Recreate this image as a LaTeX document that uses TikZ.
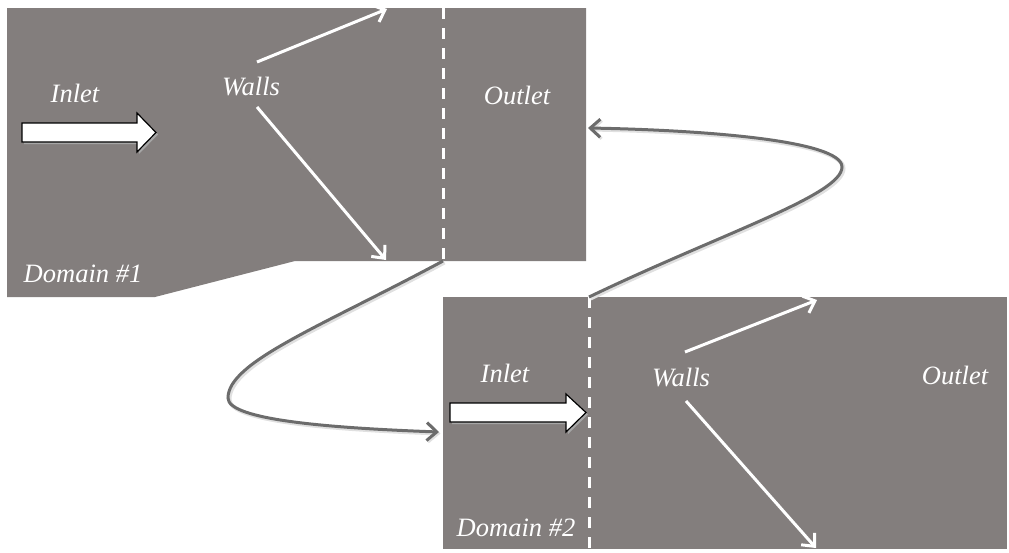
\documentclass[tikz,border=0pt]{standalone}
\usepackage{fontspec}
\setmainfont{Liberation Serif}
\usetikzlibrary{arrows.meta}

\definecolor{zonegray}{RGB}{131,126,125}
\definecolor{linkgray}{RGB}{108,108,108}

\tikzset{
  zone/.style={fill=zonegray, draw=none},
  tag/.style={text=white, font=\itshape\fontsize{26.5}{30}\selectfont, inner sep=0pt, anchor=base},
  cut/.style={white, line width=3pt, dash pattern=on 11pt off 9pt},
  wallarrow/.style={white, line width=3pt, -{Straight Barb[length=10pt, width=18pt, line width=3pt]}},
  link/.style={linkgray, line width=3pt, -{Straight Barb[length=10pt, width=18pt, line width=3pt]},
    preaction={draw=black!12, line width=4pt, transform canvas={shift={(1.5,1.5)}}}},
  inflow/.style={fill=white, draw=black, line width=1.2pt, line join=miter,
    preaction={fill=black!35, transform canvas={shift={(2,2)}}}}
}

\begin{document}
\begin{tikzpicture}[x=1pt, y=-1pt]
    \useasboundingbox (0,0) rectangle (1009,552);

    % Domains
    \fill[zone] (7,8) -- (586,8) -- (586,261) -- (295,261) -- (155,297) -- (7,297) -- cycle;
    \fill[zone] (443,297) rectangle (1007,549);

    % Interfaces
    \coordinate (cut1top) at (443,8);
    \coordinate (cut1bot) at (443,261);
    \coordinate (cut2top) at (589,297);
    \coordinate (cut2bot) at (589,549);
    \draw[cut] (cut1top) -- (cut1bot);
    \draw[cut] (cut2top) -- (cut2bot);

    % Inflow arrows
    \draw[inflow] (22,123) -- (137,123) -- (137,113) -- (156,132.5) -- (137,152) -- (137,142) -- (22,142) -- cycle;
    \draw[inflow] (450,403) -- (566,403) -- (566,394) -- (586,412.5) -- (566,432) -- (566,422) -- (450,422) -- cycle;

    % Labels
    \node[tag] (inlet1) at (75,102) {Inlet};
    \node[tag] (walls1) at (251,95) {Walls};
    \node[tag] (outlet1) at (517,104) {Outlet};
    \node[tag] (dom1) at (83,282) {Domain \#1};
    \node[tag] (inlet2) at (505,382) {Inlet};
    \node[tag] (walls2) at (681,386) {Walls};
    \node[tag] (outlet2) at (955,384) {Outlet};
    \node[tag] (dom2) at (516,536) {Domain \#2};

    % Wall arrows
    \coordinate (w1a) at (257,62);
    \coordinate (w1b) at (387,9);
    \coordinate (w1c) at (257,107);
    \coordinate (w1d) at (386,260);
    \coordinate (w2a) at (685,352);
    \coordinate (w2b) at (817,300);
    \coordinate (w2c) at (686,401);
    \coordinate (w2d) at (816,548);
    \draw[wallarrow] (w1a) -- (w1b);
    \draw[wallarrow] (w1c) -- (w1d);
    \draw[wallarrow] (w2a) -- (w2b);
    \draw[wallarrow] (w2c) -- (w2d);

    % Outlet to inlet links
    \coordinate (in2) at (439,432);
    \coordinate (out1) at (588,128);
    \draw[link] (cut1bot) .. controls (320,327) and (228,362) .. (228,398)
        .. controls (228,420) and (330,428) .. (in2);
    \draw[link] (cut2top) .. controls (720,234) and (842,195) .. (842,167)
        .. controls (842,140) and (700,130) .. (out1);
\end{tikzpicture}
\end{document}
